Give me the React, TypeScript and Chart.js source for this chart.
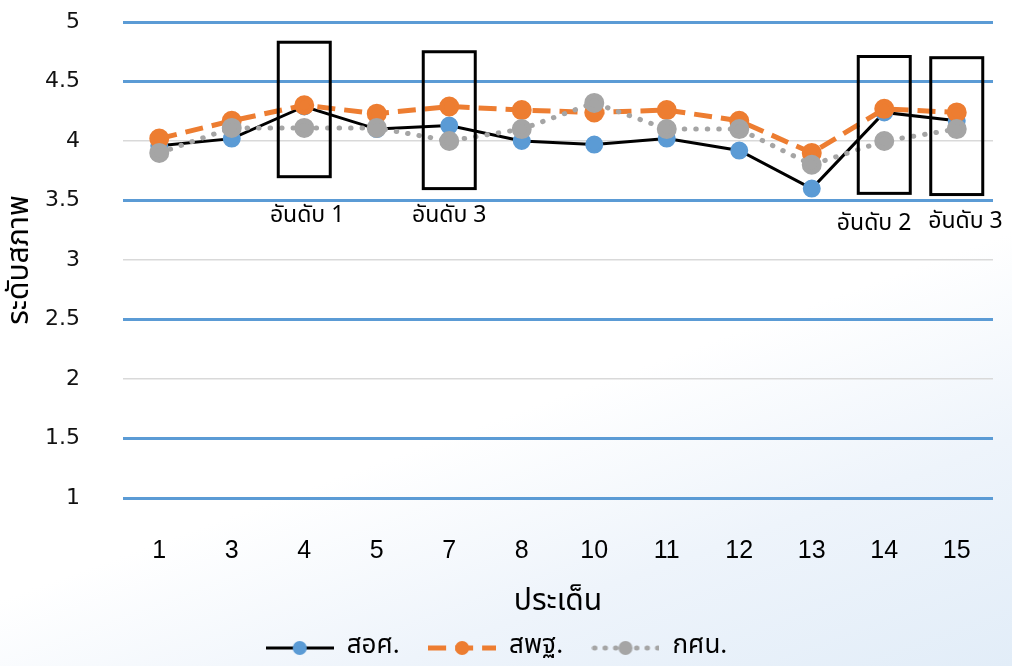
import React, { useEffect, useRef } from 'react';
import { Chart, registerables } from 'chart.js';

Chart.register(...registerables);

const categories = ['1', '3', '4', '5', '7', '8', '10', '11', '12', '13', '14', '15'];
const seriesNames = ['สอศ.', 'สพฐ.', 'กศน.'];
const ovecValues = [3.96, 4.02, 4.29, 4.1, 4.13, 4.0, 3.97, 4.02, 3.92, 3.6, 4.24, 4.17];
const obecValues = [4.02, 4.17, 4.3, 4.23, 4.29, 4.26, 4.24, 4.26, 4.17, 3.9, 4.27, 4.24];
const onieValues = [3.9, 4.11, 4.11, 4.11, 4.0, 4.1, 4.32, 4.1, 4.1, 3.8, 4.0, 4.1];
const yMin = 1;
const yMax = 5;
const yStep = 0.5;
const blueGridValues = [1, 1.5, 2.5, 3.5, 4.5, 5];
const rankCategories = ['4', '7', '14', '15'];
const rankLabels = ['อันดับ 1', 'อันดับ 3', 'อันดับ 2', 'อันดับ 3'];
const rankBoxTop = [4.83, 4.75, 4.71, 4.7];
const rankBoxBottom = [3.7, 3.6, 3.56, 3.55];
const rankLabelValue = [3.36, 3.36, 3.29, 3.31];
const rankLabelCategoryPos = [2.04, 4.0, 9.86, 11.12];

const THAI_FONT = '"Noto Sans Thai", Tahoma, "DejaVu Sans", sans-serif';

function legendIcon(line: string, fill: string, dash: number[], width: number) {
  const c = document.createElement('canvas');
  c.width = 68;
  c.height = 18;
  const g = c.getContext('2d')!;
  g.strokeStyle = line;
  g.lineWidth = width;
  g.lineCap = dash.length && dash[0] <= 2 ? 'round' : 'butt';
  g.setLineDash(dash);
  g.beginPath();
  g.moveTo(dash.length && dash[0] <= 2 ? 3 : 0, 9);
  g.lineTo(68, 9);
  g.stroke();
  g.setLineDash([]);
  g.fillStyle = fill;
  g.beginPath();
  g.arc(34, 9, 7, 0, Math.PI * 2);
  g.fill();
  return c;
}

const rankPlugin = {
  id: 'rankBoxes',
  afterDatasetsDraw(chart: any) {
    const { ctx } = chart;
    const x = chart.scales.x;
    const y = chart.scales.y;
    ctx.save();
    rankCategories.forEach((c, i) => {
      const cx = x.getPixelForValue(categories.indexOf(c));
      const top = y.getPixelForValue(rankBoxTop[i]);
      const bottom = y.getPixelForValue(rankBoxBottom[i]);
      ctx.strokeStyle = '#000';
      ctx.lineWidth = 3;
      ctx.strokeRect(cx - 26, top, 52, bottom - top);
      ctx.fillStyle = '#000';
      ctx.font = '23px ' + THAI_FONT;
      ctx.textAlign = 'center';
      ctx.textBaseline = 'middle';
      ctx.fillText(rankLabels[i], x.getPixelForValue(rankLabelCategoryPos[i]), y.getPixelForValue(rankLabelValue[i]));
    });
    ctx.restore();
  },
};

export default function App() {
  const ref = useRef<HTMLCanvasElement>(null);
  useEffect(() => {
    const icons = [
      legendIcon('#000', '#5b9bd5', [], 3),
      legendIcon('#ed7d31', '#ed7d31', [18, 9], 5),
      legendIcon('#a5a5a5', '#a5a5a5', [0.5, 10], 5),
    ];
    const chart = new Chart(ref.current!, {
      type: 'line',
      data: {
        labels: categories,
        datasets: [
          {
            label: seriesNames[0],
            data: ovecValues,
            borderColor: '#000',
            borderWidth: 3,
            backgroundColor: '#5b9bd5',
            pointBackgroundColor: '#5b9bd5',
            pointBorderColor: '#5b9bd5',
            pointRadius: 7.5,
            order: 2,
          } as any,
          {
            label: seriesNames[1],
            data: obecValues,
            borderColor: '#ed7d31',
            borderWidth: 5,
            borderDash: [18, 9],
            backgroundColor: '#ed7d31',
            pointBackgroundColor: '#ed7d31',
            pointBorderColor: '#ed7d31',
            pointRadius: 7.5,
            order: 1,
          } as any,
          {
            label: seriesNames[2],
            data: onieValues,
            borderColor: '#a5a5a5',
            borderWidth: 5,
            borderDash: [0.5, 11],
            borderCapStyle: 'round',
            backgroundColor: '#a5a5a5',
            pointBackgroundColor: '#a5a5a5',
            pointBorderColor: '#a5a5a5',
            pointRadius: 7.5,
            order: 0,
          } as any,
        ],
      },
      options: {
        animation: false,
        responsive: true,
        maintainAspectRatio: false,
        layout: { padding: { top: 0, right: 19, left: 0, bottom: -5 } },
        plugins: {
          tooltip: { enabled: false },
          legend: {
            position: 'bottom',
            labels: {
              usePointStyle: true,
              pointStyleWidth: 68,
              padding: 8,
              color: '#000',
              font: { size: 26, family: THAI_FONT },
              sort: (a: any, b: any) => a.datasetIndex - b.datasetIndex,
              generateLabels: (chart: any) =>
                chart.data.datasets.map((d: any, i: number) => ({
                  text: d.label + (i < 2 ? '   ' : ''),
                  pointStyle: icons[i],
                  datasetIndex: i,
                  fillStyle: 'transparent',
                  strokeStyle: 'transparent',
                  lineWidth: 0,
                  fontColor: '#000',
                  hidden: false,
                })),
            },
          },
        },
        scales: {
          x: {
            offset: true,
            grid: { display: false, drawTicks: false, offset: true },
            border: { display: false },
            ticks: {
              padding: 38,
              maxRotation: 0,
              autoSkip: false,
              color: '#000',
              font: { size: 25, family: '"Liberation Sans", sans-serif' },
            },
            title: {
              display: true,
              text: 'ประเด็น',
              color: '#000',
              font: { size: 30, family: THAI_FONT },
              padding: { top: 12, bottom: 5 },
            },
            afterFit: (s: any) => {
              s.height = 129;
            },
          },
          y: {
            min: yMin,
            max: yMax,
            border: { display: false },
            grid: {
              drawTicks: false,
              color: (c: any) => (blueGridValues.includes(c.tick?.value) ? '#5b9bd5' : '#d9d9d9'),
              lineWidth: (c: any) => (blueGridValues.includes(c.tick?.value) ? 3 : 1.5),
            },
            ticks: {
              stepSize: yStep,
              padding: 43,
              color: '#111',
              font: { size: 22, family: '"DejaVu Sans", sans-serif' },
              callback: (v: any) => String(Number(v)),
            },
            title: {
              display: true,
              text: 'ระดับสภาพ',
              color: '#000',
              font: { size: 30, family: THAI_FONT },
              padding: { top: 4, bottom: 0 },
            },
            afterFit: (s: any) => {
              s.width = 123;
              s.paddingTop = 22;
              s.paddingBottom = 0;
            },
          },
        },
      },
      plugins: [rankPlugin],
    });
    return () => chart.destroy();
  }, []);
  return (
    <div
      style={{
        position: 'absolute',
        left: 0,
        top: 0,
        width: 1012,
        height: 666,
        background: 'linear-gradient(160deg, #ffffff 0%, #ffffff 58%, #eef4fb 78%, #e2edf8 100%)',
      }}
    >
      <canvas ref={ref} />
    </div>
  );
}
